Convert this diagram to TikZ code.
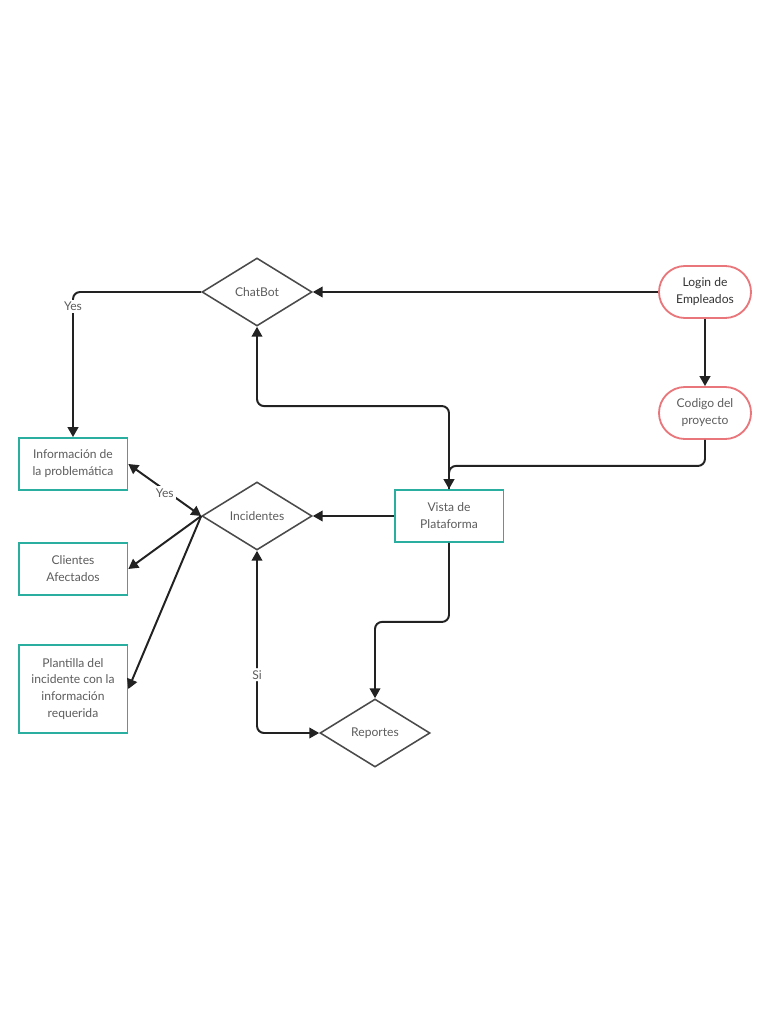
\documentclass[tikz,border=0pt]{standalone}
\usepackage{fontspec}
\setmainfont{Lato}
\usepackage{tikz}
\usetikzlibrary{arrows.meta,positioning,shapes.geometric}
\usepackage{xcolor}
\definecolor{tealline}{HTML}{2AAE9F}
\definecolor{pinkline}{HTML}{E8767A}
\definecolor{darkline}{HTML}{222222}
\definecolor{shapeline}{HTML}{4A4A4A}
\definecolor{labelgray}{HTML}{5C5C5C}
\definecolor{darktext}{HTML}{333333}

\begin{document}
\begin{tikzpicture}[
    x=0.025cm, y=-0.025cm,
    font=\fontsize{8.6}{12}\selectfont,
    decision/.style={
      diamond, draw=shapeline, line width=1.1pt, text=labelgray,
      minimum width=2.75cm, minimum height=1.7cm, aspect=1.6,
      inner sep=0pt,
    },
    panel/.style={
      rectangle, draw=tealline, line width=1.3pt, text=labelgray,
      minimum width=2.72cm, minimum height=#1,
      align=center, inner sep=2pt,
    },
    panel/.default=1.3cm,
    terminal/.style={
      rectangle, draw=pinkline, line width=1.3pt, rounded corners=0.65cm,
      minimum width=2.3cm, minimum height=1.3cm,
      align=center, inner sep=2pt,
    },
    flow/.style={
      -{Triangle[length=7pt,width=7.5pt]}, line width=1.4pt, draw=darkline,
    },
    twoway/.style={
      {Triangle[length=7pt,width=7.5pt]}-{Triangle[length=7pt,width=7.5pt]},
      line width=1.4pt, draw=darkline,
    },
    tag/.style={fill=white, text=labelgray, inner sep=1.5pt},
  ]

  \useasboundingbox (0,0) rectangle (768,1024);

  % =================== Login branch ===================
  \node[terminal, text=darktext] (login) at (705,292) {Login de\\Empleados};
  \node[terminal, text=labelgray] (codigo) at (705,413) {Codigo del\\proyecto};
  \node[panel] (vista) at (449,516) {Vista de\\Plataforma};

  % =================== Decisions ===================
  \node[decision] (chatbot) at (257,292) {ChatBot};
  \node[decision] (incid) at (257,516) {Incidentes};
  \node[decision] (reportes) at (375,733) {Reportes};

  % =================== Left column ===================
  \node[panel] (info) at (73,464) {Información de\\la problemática};
  \node[panel] (clientes) at (73,569) {Clientes\\Afectados};
  \node[panel=2.18cm] (plantilla) at (73,689) {Plantilla del\\incidente con la\\información\\requerida};

  % =================== Connectors ===================
  \draw[flow] (login) -- (chatbot);
  \draw[flow] (login) -- (codigo);
  \draw[flow, rounded corners=5pt] (codigo.south) -- ++(0,26) -| (vista.north);
  \draw[flow, rounded corners=5pt] (vista.north) -- ++(0,-83) -| (chatbot.south);
  \draw[flow, rounded corners=5pt] (chatbot.west) -| (info.north)
    node[tag, pos=0.55] {Yes};

  \draw[flow] (vista) -- (incid);
  \draw[flow, rounded corners=5pt] (vista.south) -- ++(0,79) -| (reportes.north);

  \draw[twoway] (info.east) -- (incid.west)
    node[tag, midway, yshift=-2pt] {Yes};
  \draw[flow] (incid.west) -- (clientes.east);
  \draw[flow] (incid.west) -- (plantilla.east);

  \draw[twoway, rounded corners=5pt] (incid.south) |- (reportes.west)
    node[tag, pos=0.34] {Si};

\end{tikzpicture}
\end{document}
